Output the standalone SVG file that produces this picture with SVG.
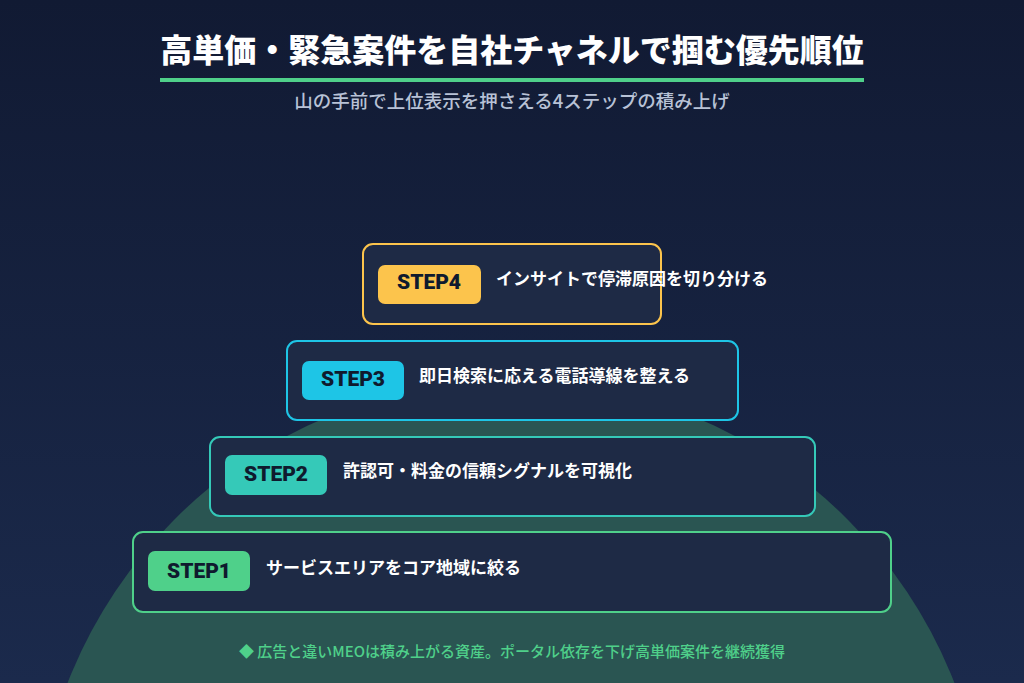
<svg xmlns="http://www.w3.org/2000/svg" width="1024" height="683" viewBox="0 0 1024 683">
<defs>
<linearGradient id="bg" x1="0" y1="0" x2="0" y2="1"><stop offset="0" stop-color="#111a33"/><stop offset="1" stop-color="#1b2a4c"/></linearGradient>
<style>
text{font-family:"Noto Sans CJK JP","Noto Sans",sans-serif;font-weight:700}
.box{fill:#1e2a45;stroke-width:2}
.lbl{font-family:Roboto,"Noto Sans",sans-serif;font-size:21px;fill:#0f1a2e;text-anchor:middle;font-weight:900}
.t{font-size:17px;fill:#ffffff}
</style>
</defs>
<rect width="1024" height="683" fill="url(#bg)"/>
<circle cx="511" cy="856" r="476" fill="#2a5552"/>
<text x="512" y="62" font-size="32" fill="#ffffff" text-anchor="middle" style="font-weight:900">高単価・緊急案件を自社チャネルで掴む優先順位</text>
<rect x="160" y="78" width="704" height="4" fill="#4fd08a"/>
<text x="512" y="108" font-size="18.5" fill="#b8c2d6" text-anchor="middle" style="font-weight:500">山の手前で上位表示を押さえる4ステップの積み上げ</text>
<g id="step1"><rect class="box" x="133" y="532" width="758" height="80" rx="10" stroke="#4fd08a"/><rect x="148" y="551" width="102" height="40" rx="7" fill="#4fd08a"/><text class="lbl" x="199" y="578">STEP1</text><text class="t" x="266" y="574">サービスエリアをコア地域に絞る</text></g>
<g id="step2"><rect class="box" x="210" y="437" width="605" height="79" rx="10" stroke="#35c9b8"/><rect x="225" y="455" width="102" height="40" rx="7" fill="#35c9b8"/><text class="lbl" x="276" y="481">STEP2</text><text class="t" x="343" y="477">許認可・料金の信頼シグナルを可視化</text></g>
<g id="step3"><rect class="box" x="287" y="341" width="451" height="79" rx="10" stroke="#1ec5e6"/><rect x="302" y="361" width="102" height="39" rx="7" fill="#1ec5e6"/><text class="lbl" x="353" y="386">STEP3</text><text class="t" x="419" y="382">即日検索に応える電話導線を整える</text></g>
<g id="step4"><rect class="box" x="363" y="244" width="298" height="80" rx="10" stroke="#fcc44c"/><rect x="378" y="265" width="103" height="39" rx="7" fill="#fcc44c"/><text class="lbl" x="429" y="289">STEP4</text><text class="t" x="496" y="285">インサイトで停滞原因を切り分ける</text></g>
<text x="512" y="657" font-size="15" fill="#4fd08a" text-anchor="middle" style="font-weight:500">◆ 広告と違いMEOは積み上がる資産。ポータル依存を下げ高単価案件を継続獲得</text>
</svg>
